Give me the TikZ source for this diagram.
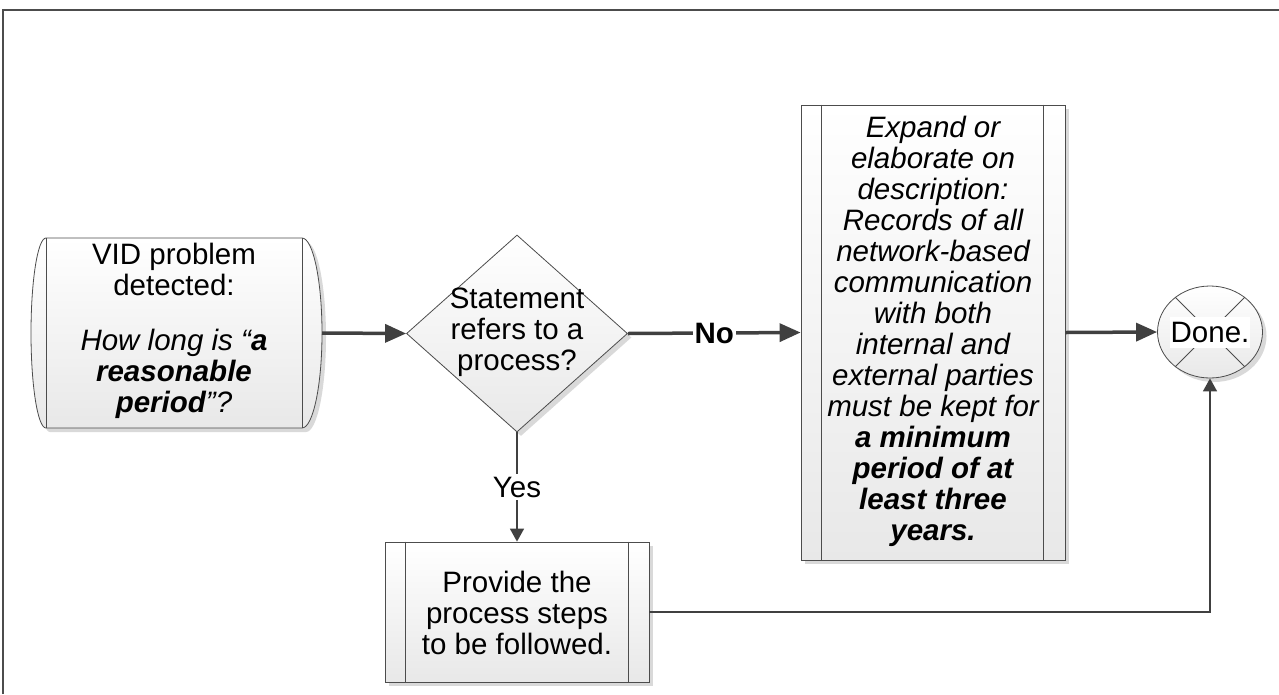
\documentclass[tikz,border=0pt]{standalone}
\usepackage{fontspec}
\setmainfont{Liberation Sans}
\usetikzlibrary{arrows.meta,shapes.geometric,shadows,calc}
\begin{document}
\begin{tikzpicture}[x=1pt,y=-1pt,
  txt/.style={font=\fontsize{29.5}{31}\selectfont, align=center, inner sep=0pt, text=black},
  shp/.style={draw=black!70, line width=0.8pt, top color=white, bottom color=black!9,
    drop shadow={shadow xshift=4pt, shadow yshift=-4pt, fill=black!15, opacity=1}},
  bline/.style={draw=black!70, line width=0.8pt},
  thickarrow/.style={draw=black!75, line width=3.5pt, -{Triangle[length=21pt,width=18pt]}},
  thinarrow/.style={draw=black!75, line width=1.6pt, -{Triangle[length=13pt,width=14pt]}}
]
\useasboundingbox (0,0) rectangle (1279,694);
% frame
\draw[draw=black!70, line width=1.2pt] (3,694) -- (3,10) -- (1279,10);

% start shape
\path[shp] (46,238) -- (302,238) .. controls (313,238) and (322,280.6) .. (322,333)
  .. controls (322,385.4) and (313,428) .. (302,428) -- (46,428)
  .. controls (37.7,428) and (31,385.4) .. (31,333)
  .. controls (31,280.6) and (37.7,238) .. (46,238) -- cycle;
\draw[bline] (46,238) -- (46,428);
\draw[bline] (302,238) -- (302,428);
\node[txt] (start) at (174,331) {VID problem\\detected:\\[24pt]
  \textit{How long is “\textbf{a}}\\ \textit{\textbf{reasonable}}\\ \textit{\textbf{period}”?}};
\coordinate (startE) at (322,333);

% decision
\node[shp, diamond, minimum width=221pt, minimum height=197pt, inner sep=0pt] (dec) at (517,333.5) {};
\node[txt] (dectxt) at (517,332) {Statement\\refers to a\\process?};

% right process box
\node[shp, minimum width=264pt, minimum height=455pt, inner sep=0pt] (proc) at (933,332.5) {};
\draw[bline] ($(proc.north west)+(21,0)$) -- ($(proc.south west)+(21,0)$);
\draw[bline] ($(proc.north east)+(-22,0)$) -- ($(proc.south east)+(-22,0)$);
\node[txt, font=\fontsize{29.5}{31}\selectfont\itshape] (proctxt) at (933,331) {Expand or\\elaborate on\\description:\\Records of all\\network-based\\communication\\with both\\internal and\\external parties\\must be kept for\\\textbf{a minimum}\\\textbf{period of at}\\\textbf{least three}\\\textbf{years.}};

% bottom process box
\node[shp, minimum width=264pt, minimum height=140pt, inner sep=0pt] (steps) at (517,612) {};
\draw[bline] ($(steps.north west)+(21,0)$) -- ($(steps.south west)+(21,0)$);
\draw[bline] ($(steps.north east)+(-21,0)$) -- ($(steps.south east)+(-21,0)$);
\node[txt] (stepstxt) at (517,613) {Provide the\\process steps\\to be followed.};

% done
\node[shp, ellipse, minimum width=105pt, minimum height=92pt, inner sep=0pt] (done) at (1210,332) {};
\draw[bline] (done.45) -- (done.225);
\draw[bline] (done.135) -- (done.315);
\node[txt, fill=white, minimum width=80pt, minimum height=31pt] (donetxt) at (done.center) {Done.};

% connectors
\draw[thickarrow] (startE) -- (dec.west);
\draw[thickarrow] (dec.east) -- node[txt, fill=white, font=\fontsize{29.5}{31}\selectfont\bfseries, inner sep=2pt] (no) {No} (proc.west);
\draw[thickarrow] (proc.east) -- (done.west);
\draw[thinarrow] (dec.south) -- node[txt, fill=white, inner sep=3pt] (yes) {Yes} (steps.north);
\draw[thinarrow] (steps.east) -| (done.south);
\end{tikzpicture}
\end{document}
